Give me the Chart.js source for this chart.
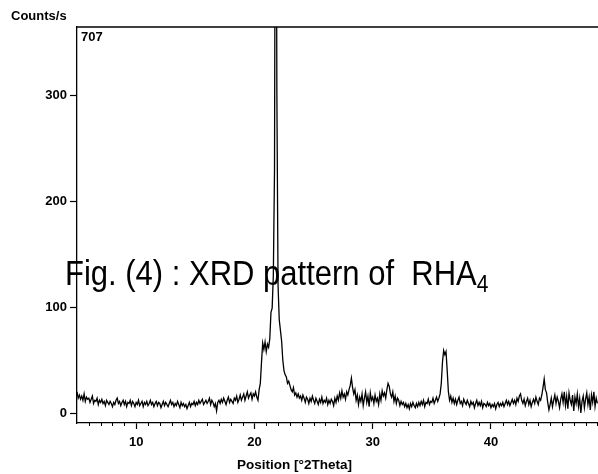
<!DOCTYPE html>
<html>
<head>
<meta charset="utf-8">
<script src="https://cdn.jsdelivr.net/npm/chart.js@4/dist/chart.umd.min.js"></script>
<style>
  html, body { margin: 0; padding: 0; background: #fff; }
  #wrap { position: relative; width: 598px; height: 474px; overflow: hidden; }
  canvas { position: absolute; left: 0; top: 0; }
  .lbl { position: absolute; font-family: Arial, "Liberation Sans", sans-serif; font-weight: bold; color: #000; white-space: nowrap; }
  #caption { position: absolute; left: 65px; top: 259px; font-family: Arial, "Liberation Sans", sans-serif; font-size: 31px; line-height: 31px; color: #000; white-space: nowrap; transform: scaleY(1.12); transform-origin: 0 26px; }
  #caption sub { font-size: 21px; vertical-align: -6px; line-height: 0; }
</style>
</head>
<body>
<div id="wrap">
  <canvas id="c" width="598" height="474"></canvas>
  <div class="lbl" style="left:11px; top:8px; font-size:13px;">Counts/s</div>
  <div class="lbl" style="left:81px; top:29px; font-size:13px;">707</div>
  <div class="lbl" style="left:237px; top:457px; font-size:13.5px;">Position [°2Theta]</div>
  <div id="caption">Fig. (4) : XRD pattern of &nbsp;RHA<sub>4</sub></div>
</div>
<script>
// 2-theta sampling: 5.0 .. 49.0 deg in 0.1 deg steps
const startAngle = 5.0;
const stepAngle = 0.1;
// counts per second (peak maximum 707, clipped at top)
const counts = [
  20, 14, 17, 13, 16, 12, 18, 11, 15, 13,
  14, 10, 13, 16, 9, 12, 11, 14, 8, 12,
  10, 13, 9, 11, 7, 12, 10, 8, 11, 9,
  6, 10, 8, 12, 14, 9, 11, 7, 10, 12,
  8, 11, 6, 10, 9, 12, 7, 11, 9, 6,
  10, 8, 12, 7, 9, 11, 6, 10, 8, 11,
  7, 9, 12, 8, 10, 6, 9, 11, 7, 10,
  9, 5, 8, 11, 7, 10, 8, 6, 9, 12,
  8, 10, 6, 9, 7, 11, 8, 5, 10, 7,
  9, 6, 8, 4, 7, 10, 6, 9, 8, 11,
  7, 10, 8, 12, 9, 11, 13, 8, 10, 12,
  9, 11, 14, 8, 12, 10, 6, 9, 2, 10,
  12, 9, 13, 10, 14, 11, 8, 12, 15, 10,
  13, 11, 9, 14, 12, 16, 10, 13, 17, 12,
  15, 18, 12, 16, 20, 14, 17, 19, 13, 18,
  16, 20, 15, 12, 22, 28, 48, 66, 60, 67,
  58, 65, 62, 70, 95, 99, 130, 230, 707, 300,
  120, 88, 78, 68, 50, 40, 36, 34, 28, 30,
  26, 22, 20, 24, 17, 19, 15, 18, 14, 16,
  12, 17, 14, 10, 15, 13, 9, 14, 11, 16,
  12, 9, 14, 11, 8, 13, 10, 15, 9, 12,
  10, 14, 8, 12, 9, 13, 11, 7, 14, 10,
  16, 12, 19, 14, 21, 15, 18, 13, 20, 17,
  22, 26, 33, 24, 18, 22, 12, 17, 8, 15,
  11, 18, 7, 14, 20, 10, 16, 6, 19, 12,
  15, 9, 17, 11, 14, 8, 18, 12, 21, 16,
  19, 14, 22, 28, 25, 18, 15, 20, 11, 16,
  9, 14, 12, 7, 11, 8, 10, 6, 9, 5,
  8, 4, 9, 6, 10, 7, 5, 9, 6, 10,
  7, 11, 8, 12, 6, 10, 9, 13, 8, 11,
  10, 14, 9, 12, 15, 11, 14, 18, 28, 48,
  59, 55, 58, 40, 20, 12, 16, 10, 14, 9,
  13, 8, 12, 15, 9, 11, 7, 13, 10, 8,
  12, 9, 6, 11, 8, 10, 5, 9, 12, 7,
  10, 7, 11, 5, 9, 8, 6, 10, 7, 9,
  5, 8, 6, 9, 4, 8, 10, 6, 9, 7,
  10, 6, 9, 12, 8, 11, 7, 10, 13, 9,
  12, 8, 14, 11, 16, 18, 12, 9, 13, 7,
  11, 14, 8, 12, 6, 10, 13, 9, 15, 11,
  8, 14, 12, 17, 24, 32, 22, 19, 10, 3,
  8, 14, 6, 12, 17, 9, 15, 11, 5, 13,
  18, 10, 20, 7, 16, 4, 19, 12, 8, 17,
  2, 15, 9, 18, 6, 14, 0, 11, 16, 5,
  13, 19, 8, 15, 3, 17, 10, 20, 6, 14,
  9
];
const twoTheta = counts.map((_, i) => +(startAngle + i * stepAngle).toFixed(1));
const xTickLabels = [10, 20, 30, 40];
const yTickLabels = [0, 100, 200, 300];
const xMinorTicks = [6,7,8,9,11,12,13,14,15,16,17,18,19,21,22,23,24,25,26,27,28,29,31,32,33,34,35,36,37,38,39,41,42,43,44,45,46,47,48,49];

const points = twoTheta.map((t, i) => ({ x: t, y: counts[i] }));

const frame = {
  id: 'frame',
  afterDraw(chart) {
    const { ctx, chartArea: a, scales } = chart;
    ctx.save();
    ctx.strokeStyle = '#000';
    ctx.lineWidth = 1.3;
    ctx.beginPath();
    ctx.moveTo(a.left, a.top);
    ctx.lineTo(a.right, a.top);
    ctx.stroke();
    ctx.lineWidth = 1;
    ctx.beginPath();
    for (const v of xMinorTicks) {
      const px = Math.round(scales.x.getPixelForValue(v)) + 0.5;
      ctx.moveTo(px, a.bottom);
      ctx.lineTo(px, a.bottom + 3);
    }
    ctx.stroke();
    ctx.restore();
  }
};

const tickFont = { family: 'Arial, "Liberation Sans", sans-serif', size: 13, weight: 'bold' };

new Chart(document.getElementById('c'), {
  type: 'line',
  data: {
    datasets: [{
      data: points,
      borderColor: '#000',
      borderWidth: 1.3,
      pointRadius: 0,
      tension: 0,
      fill: false
    }]
  },
  options: {
    responsive: false,
    animation: false,
    devicePixelRatio: 1,
    layout: { padding: { left: 0, right: 0, top: 27, bottom: 0 } },
    plugins: { legend: { display: false }, tooltip: { enabled: false } },
    scales: {
      x: {
        type: 'linear',
        min: 5,
        max: 49.05,
        afterFit(s) { s.height = 51; },
        afterBuildTicks(s) { s.ticks = xTickLabels.map(v => ({ value: v })); },
        grid: { display: true, drawOnChartArea: false, drawTicks: true, tickLength: 6, tickColor: '#000', tickWidth: 1.2 },
        border: { display: true, color: '#000', width: 1.3 },
        ticks: { color: '#000', font: tickFont, padding: 6, maxRotation: 0, autoSkip: false }
      },
      y: {
        type: 'linear',
        min: -9.43,
        max: 364.2,
        afterFit(s) { s.width = 77; },
        afterBuildTicks(s) { s.ticks = yTickLabels.map(v => ({ value: v })); },
        grid: { display: true, drawOnChartArea: false, drawTicks: true, tickLength: 7, tickColor: '#000', tickWidth: 1.2 },
        border: { display: true, color: '#000', width: 1.3 },
        ticks: { color: '#000', font: tickFont, padding: 3, autoSkip: false }
      }
    }
  },
  plugins: [frame]
});
</script>
</body>
</html>
